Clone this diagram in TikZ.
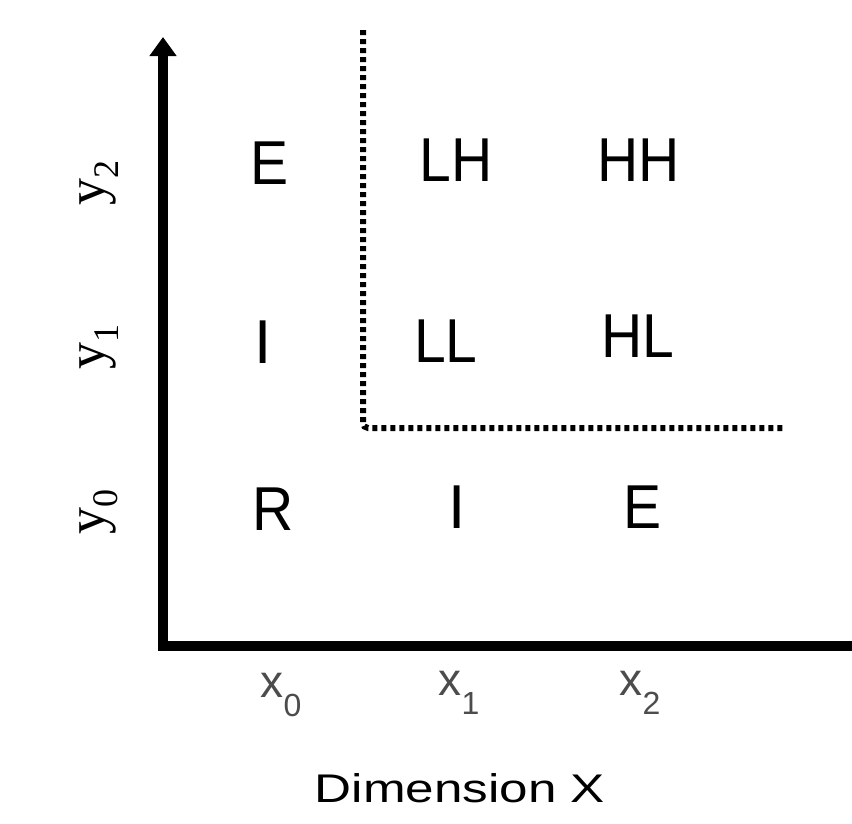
\documentclass[tikz,border=0pt]{standalone}
\usepackage{fontspec}
\setmainfont{Liberation Sans}
\newfontfamily\serifyfont{Liberation Serif}
\usetikzlibrary{arrows.meta}
\tikzset{
  big/.style={font=\fontsize{62}{70}\selectfont, inner sep=0pt},
  ylab/.style={font=\serifyfont\fontsize{54}{60}\selectfont, rotate=90, inner sep=0pt},
  xlab/.style={font=\fontsize{46}{50}\selectfont, text=black!70, inner sep=0pt},
  axis/.style={line width=10pt, line join=miter},
  dotline/.style={line width=6pt, dash pattern=on 5pt off 4pt, rounded corners=5pt},
}
\newcommand\nar[1]{\scalebox{0.92}[1]{#1}}
\begin{document}
\begin{tikzpicture}[x=1pt,y=-1pt]
\useasboundingbox (0,0) rectangle (852,823);
% axes
\coordinate (top) at (163,37);
\coordinate (O) at (163,646);
\coordinate (right) at (852,646);
\draw[axis, {Triangle[width=26pt,length=19pt]}-] (top) -- (O) -- (right);
% dotted boundary
\coordinate (d1) at (363,30);
\coordinate (d2) at (363,428);
\coordinate (d3) at (783,428);
\draw[dotline] (d1) -- (d2) -- (d3);
% cell letters
\node[big] (E2) at (270,163) {\nar{E}};
\node[big] (LH) at (456,160) {\nar{LH}};
\node[big] (HH) at (639,160) {\nar{HH}};
\node[big] (I1) at (263,342) {I};
\node[big] (LL) at (446,341) {\nar{LL}};
\node[big] (HL) at (638,336) {\nar{HL}};
\node[big] (R0) at (273,509) {\nar{R}};
\node[big] (I0) at (457,507) {I};
\node[big] (E0) at (643,507) {\nar{E}};
% y labels
\node[ylab] (y2) at (99,183) {y\raisebox{-0.25em}{\fontsize{36}{36}\selectfont 2}};
\node[ylab] (y1) at (99,347) {y\raisebox{-0.25em}{\fontsize{36}{36}\selectfont 1}};
\node[ylab] (y0) at (99,512) {y\raisebox{-0.25em}{\fontsize{36}{36}\selectfont 0}};
% x labels
\node[xlab] (x0) at (281,695) {x\raisebox{-0.4em}{\fontsize{32}{32}\selectfont 0}};
\node[xlab] (x1) at (459,693) {x\raisebox{-0.4em}{\fontsize{32}{32}\selectfont 1}};
\node[xlab] (x2) at (640,693) {x\raisebox{-0.4em}{\fontsize{32}{32}\selectfont 2}};
% axis title
\node[inner sep=0pt, font=\fontsize{40}{44}\selectfont] (dim) at (460,788) {\scalebox{1.28}[1]{Dimension X}};
\end{tikzpicture}
\end{document}
